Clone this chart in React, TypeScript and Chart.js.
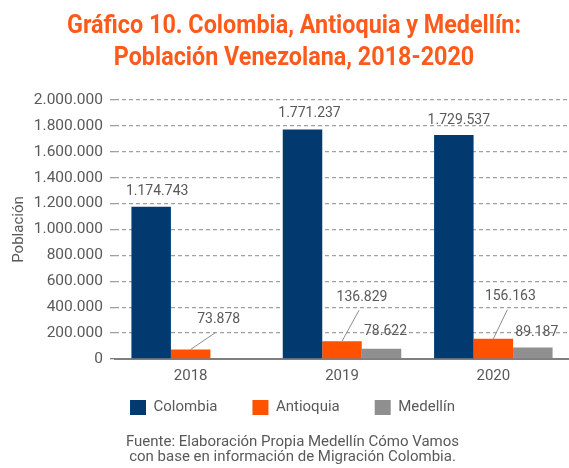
import React, { useEffect, useRef } from "react";
import { Chart, registerables } from "chart.js";

Chart.register(...registerables);

const titleLines = ["Gráfico 10. Colombia, Antioquia y Medellín:", "Población Venezolana, 2018-2020"];
const years = ["2018", "2019", "2020"];
const seriesNames = ["Colombia", "Antioquia", "Medellín"];
const colombia = [1174743, 1771237, 1729537];
const antioquia = [73878, 136829, 156163];
const medellin = [null, 78622, 89187];
const yMin = 0;
const yMax = 2000000;
const yStep = 200000;
const yAxisTitle = "Población";
const sourceLines = [
  "Fuente: Elaboración Propia Medellín Cómo Vamos",
  "con base en información de Migración Colombia.",
];

const seriesColors = ["#023a6f", "#ff5200", "#8f8f8f"];
const textGray = "#595959";
const FONT = "Roboto, 'Open Sans', sans-serif";

const fmt = (v: number) => String(Math.round(v)).replace(/\B(?=(\d{3})+(?!\d))/g, ".");

// label placement relative to bar top centre (style only)
const labelPlacement: any[][] = [
  [{ dx: 6, dy: -15 }, { dx: 7, dy: -16 }, { dx: 5, dy: -15 }],
  [{ dx: 28, dy: -30, leader: true }, { dx: 20, dy: -44, leader: true }, { dx: 17, dy: -42, leader: true }],
  [null, { dx: 4, dy: -17 }, { dx: 4, dy: -15 }],
];

const valueLabels = {
  id: "valueLabels",
  afterDatasetsDraw(chart: any) {
    const ctx = chart.ctx;
    ctx.save();
    ctx.font = `14px ${FONT}`;
    ctx.fillStyle = textGray;
    ctx.textAlign = "center";
    ctx.textBaseline = "middle";
    chart.data.datasets.forEach((ds: any, di: number) => {
      const meta = chart.getDatasetMeta(di);
      meta.data.forEach((bar: any, i: number) => {
        const v = ds.data[i];
        const p = labelPlacement[di] && labelPlacement[di][i];
        if (v == null || !p) return;
        const lx = bar.x + p.dx;
        const ly = bar.y + p.dy;
        if (p.leader) {
          ctx.save();
          ctx.strokeStyle = "#8c8c8c";
          ctx.lineWidth = 1;
          ctx.beginPath();
          ctx.moveTo(bar.x, bar.y);
          ctx.lineTo(lx - 3, ly + 13);
          ctx.stroke();
          ctx.restore();
        }
        ctx.fillText(fmt(v), lx, ly);
      });
    });
    ctx.restore();
  },
};

const headerTitle = {
  id: "headerTitle",
  afterDraw(chart: any) {
    const ctx = chart.ctx;
    ctx.save();
    ctx.font = `bold 25px ${FONT}`;
    ctx.fillStyle = "#fd5a1c";
    ctx.textAlign = "center";
    ctx.textBaseline = "alphabetic";
    const w = ctx.measureText(titleLines[0]).width;
    const s = Math.min(1, 454 / w);
    const baselines = [33, 65];
    titleLines.forEach((line, i) => {
      ctx.save();
      ctx.translate(294, baselines[i]);
      ctx.scale(s, 1);
      ctx.fillText(line, 0, 0);
      ctx.restore();
    });
    ctx.restore();
  },
};

export default function App() {
  const ref = useRef<HTMLCanvasElement | null>(null);
  useEffect(() => {
    if (!ref.current) return;
    const chart = new Chart(ref.current, {
      type: "bar",
      data: {
        labels: years,
        datasets: [
          { label: seriesNames[0], data: colombia, backgroundColor: seriesColors[0] },
          { label: seriesNames[1], data: antioquia, backgroundColor: seriesColors[1] },
          { label: seriesNames[2], data: medellin as any, backgroundColor: seriesColors[2] },
        ],
      },
      options: {
        animation: false,
        responsive: false,
        layout: { padding: { left: 16, top: 100, right: 0, bottom: 0 } },
        datasets: { bar: { categoryPercentage: 0.783, barPercentage: 1 } } as any,
        plugins: {
          legend: {
            position: "bottom",
            labels: {
              boxWidth: 16,
              boxHeight: 15,
              padding: 35,
              color: textGray,
              font: { family: FONT, size: 15 },
            },
          },
          subtitle: {
            display: true,
            position: "bottom",
            text: sourceLines,
            color: textGray,
            font: { family: FONT, size: 15, lineHeight: 15.5 / 15 },
            padding: { top: 9, bottom: 3 },
          },
          title: { display: false },
          tooltip: { enabled: false },
        },
        scales: {
          x: {
            grid: { display: false, drawTicks: false },
            border: { display: true, color: "#7f7f7f", width: 2 },
            ticks: { color: textGray, font: { family: FONT, size: 15 }, padding: 8 },
            afterFit: (s: any) => {
              // compact axis box so the legend sits close; let tick labels overflow it
              s.height = 6;
              s._computeLabelArea = () => undefined;
            },
          },
          y: {
            min: yMin,
            max: yMax,
            ticks: {
              stepSize: yStep,
              color: textGray,
              font: { family: FONT, size: 15.5 },
              padding: 7,
              callback: (v: any) => fmt(Number(v)),
            },
            grid: {
              color: (c: any) => (c.tick && c.tick.value === 0 ? "rgba(0,0,0,0)" : "#a0a0a0"),
              lineWidth: 1.3,
              drawTicks: true,
              tickLength: 5,
              tickColor: (c: any) => (c.tick && c.tick.value === 0 ? "#7f7f7f" : "#a0a0a0"),
            },
            border: { display: false, dash: [4, 3] },
            title: {
              display: true,
              text: yAxisTitle,
              color: textGray,
              font: { family: FONT, size: 15 },
              padding: { top: -6, bottom: 0 },
            },
            afterFit: (s: any) => {
              s.width = 99;
            },
          },
        },
      },
      plugins: [valueLabels, headerTitle],
    });
    return () => chart.destroy();
  }, []);
  return (
    <div style={{ position: "absolute", left: 0, top: 0, width: 569, height: 468, background: "#fff" }}>
      <canvas ref={ref} width={569} height={468} style={{ display: "block" }} />
    </div>
  );
}
